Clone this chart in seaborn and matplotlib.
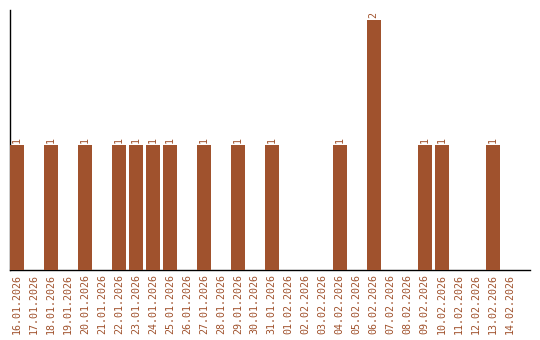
import matplotlib
matplotlib.use("Agg")
import matplotlib.pyplot as plt
import seaborn as sns
import pandas as pd

dates = ["16.01.2026", "17.01.2026", "18.01.2026", "19.01.2026", "20.01.2026",
         "21.01.2026", "22.01.2026", "23.01.2026", "24.01.2026", "25.01.2026",
         "26.01.2026", "27.01.2026", "28.01.2026", "29.01.2026", "30.01.2026",
         "31.01.2026", "01.02.2026", "02.02.2026", "03.02.2026", "04.02.2026",
         "05.02.2026", "06.02.2026", "07.02.2026", "08.02.2026", "09.02.2026",
         "10.02.2026", "11.02.2026", "12.02.2026", "13.02.2026", "14.02.2026"]
counts = [1, 0, 1, 0, 1, 0, 1, 1, 1, 1, 0, 1, 0, 1, 0,
          1, 0, 0, 0, 1, 0, 2, 0, 0, 1, 1, 0, 0, 1, 0]

color = "#A0522D"
df = pd.DataFrame({"date": dates, "count": counts})

sns.set_style("white")
plt.rcParams['font.family'] = ['DejaVu Sans Mono']

fig = plt.figure(figsize=(5.4, 3.4), dpi=100)
ax = fig.add_axes([10/540, 70/340, 520/540, 260/340])
sns.barplot(data=df, x="date", y="count", color=color, saturation=1, width=0.82,
            linewidth=0, edgecolor="none", zorder=3, ax=ax)

for i, v in enumerate(counts):
    if v > 0:
        ax.text(i, v + 0.02, str(v), rotation=90, ha="center", va="bottom",
                color=color, fontsize=7.2)

ax.set_xlim(-0.41, 30.2)
ax.set_ylim(0, 2.08)
ax.set_xlabel("")
ax.set_ylabel("")
ax.set_yticks([])
ax.tick_params(axis="x", length=0, pad=3, labelsize=7.2, labelcolor=color, rotation=90)
for s in ["top", "right"]:
    ax.spines[s].set_visible(False)
for s in ["left", "bottom"]:
    ax.spines[s].set_color("black")
    ax.spines[s].set_linewidth(1)

fig.savefig("out.png", dpi=100)
